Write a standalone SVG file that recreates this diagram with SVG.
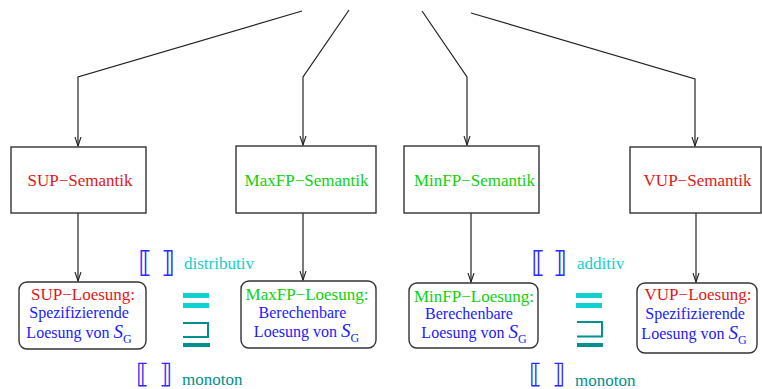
<svg xmlns="http://www.w3.org/2000/svg" width="762" height="389" viewBox="0 0 762 389" font-family="'Liberation Serif', 'Times New Roman', serif">
<style>
  .ln { fill: none; stroke: #222; stroke-width: 1.2; }
  .box { fill: #fff; stroke: #333; stroke-width: 1.4; }
  .t { font-family: 'Liberation Serif', 'Times New Roman', serif; font-size: 17px; }
  .s { font-size: 16px; }
  .red { fill: #e01818; }
  .grn { fill: #10d010; }
  .blu { fill: #1a1aff; }
  .cya { fill: #10d0d0; }
  .tea { fill: #009090; }
  .mid { text-anchor: middle; }
  .br { font-family: 'DejaVu Sans', sans-serif; font-size: 29px; fill: #2a2aff; }
  .brs { font-family: 'DejaVu Sans', sans-serif; font-size: 27px; fill: #2a2aff; }
</style>
<defs>
  <marker id="ah" markerWidth="10" markerHeight="8" refX="9" refY="4" orient="auto" markerUnits="userSpaceOnUse" viewBox="0 0 10 8">
    <path d="M0,1 L9,4 L0,7" fill="none" stroke="#222" stroke-width="1.1"/>
  </marker>
</defs>
<g id="connectors">
  <polyline class="ln" points="302,11 78,77 78,146" marker-end="url(#ah)"/>
  <polyline class="ln" points="349,10 303,77 303,145" marker-end="url(#ah)"/>
  <polyline class="ln" points="422,11 467,77 467,145" marker-end="url(#ah)"/>
  <polyline class="ln" points="471,13 695,79 695,146" marker-end="url(#ah)"/>
  <line class="ln" x1="78" y1="213" x2="78" y2="281" marker-end="url(#ah)"/>
  <line class="ln" x1="303" y1="213" x2="303" y2="280" marker-end="url(#ah)"/>
  <line class="ln" x1="471" y1="213" x2="471" y2="282" marker-end="url(#ah)"/>
  <line class="ln" x1="696" y1="213" x2="696" y2="282" marker-end="url(#ah)"/>
</g>
<g id="sup-sem">
  <rect class="box" x="11" y="147" width="135" height="66"/>
  <text class="t red mid" x="80" y="186">SUP−Semantik</text>
</g>
<g id="maxfp-sem">
  <rect class="box" x="236" y="146" width="140" height="67"/>
  <text class="t grn mid" x="306.5" y="186">MaxFP−Semantik</text>
</g>
<g id="minfp-sem">
  <rect class="box" x="404" y="146" width="135" height="67"/>
  <text class="t grn mid" x="474.5" y="186">MinFP−Semantik</text>
</g>
<g id="vup-sem">
  <rect class="box" x="630" y="147" width="131" height="66"/>
  <text class="t red mid" x="697.5" y="186">VUP−Semantik</text>
</g>
<g id="sup-loes">
  <rect class="box" x="19" y="282" width="127" height="67" rx="8"/>
  <text class="t red mid" x="83" y="299.5">SUP−Loesung:</text>
  <text class="t s blu mid" x="79" y="318">Spezifizierende</text>
  <text class="t s blu mid" x="79" y="337.5">Loesung von <tspan font-style="italic" font-size="19">S</tspan><tspan font-size="12" dy="5">G</tspan></text>
</g>
<g id="maxfp-loes">
  <rect class="box" x="241" y="281" width="135" height="67" rx="8"/>
  <text class="t grn mid" x="307" y="300">MaxFP−Loesung:</text>
  <text class="t s blu mid" x="302.5" y="317.5">Berechenbare</text>
  <text class="t s blu mid" x="306.5" y="336.5">Loesung von <tspan font-style="italic" font-size="19">S</tspan><tspan font-size="12" dy="5">G</tspan></text>
</g>
<g id="minfp-loes">
  <rect class="box" x="409" y="283" width="129" height="65" rx="8"/>
  <text class="t grn mid" x="474" y="301.5">MinFP−Loesung:</text>
  <text class="t s blu mid" x="469" y="319">Berechenbare</text>
  <text class="t s blu mid" x="474" y="338">Loesung von <tspan font-style="italic" font-size="19">S</tspan><tspan font-size="12" dy="5">G</tspan></text>
</g>
<g id="vup-loes">
  <rect class="box" x="637" y="283" width="120" height="70" rx="8"/>
  <text class="t red mid" x="698" y="299.5">VUP−Loesung:</text>
  <text class="t s blu mid" x="695" y="319">Spezifizierende</text>
  <text class="t s blu mid" x="694" y="338.5">Loesung von <tspan font-style="italic" font-size="19">S</tspan><tspan font-size="12" dy="5">G</tspan></text>
</g>
<g id="rel-left">
  <text class="br" x="138" y="272">⟦</text>
  <text class="br" x="161" y="272">⟧</text>
  <text class="t cya" x="184" y="269">distributiv</text>
  <rect x="183" y="293" width="26" height="5" fill="#10d0d0"/>
  <rect x="183" y="303" width="26" height="5" fill="#10d0d0"/>
  <path d="M183,323 H208 V337 H183" fill="none" stroke="#009090" stroke-width="2"/>
  <rect x="183" y="343" width="27" height="4" fill="#009090"/>
  <text class="brs" x="136" y="383">⟦</text>
  <text class="brs" x="159" y="383">⟧</text>
  <text class="t tea" x="182" y="385">monoton</text>
</g>
<g id="rel-right">
  <text class="br" x="531" y="272">⟦</text>
  <text class="br" x="553" y="272">⟧</text>
  <text class="t cya" x="577" y="268.5">additiv</text>
  <rect x="576" y="293" width="26" height="5" fill="#10d0d0"/>
  <rect x="576" y="303" width="26" height="5" fill="#10d0d0"/>
  <path d="M577,322 H602 V336.5 H577" fill="none" stroke="#009090" stroke-width="2"/>
  <rect x="577" y="343" width="26" height="4" fill="#009090"/>
  <text class="brs" x="529" y="383">⟦</text>
  <text class="brs" x="552" y="383">⟧</text>
  <text class="t tea" x="575" y="385.5">monoton</text>
</g>
</svg>
